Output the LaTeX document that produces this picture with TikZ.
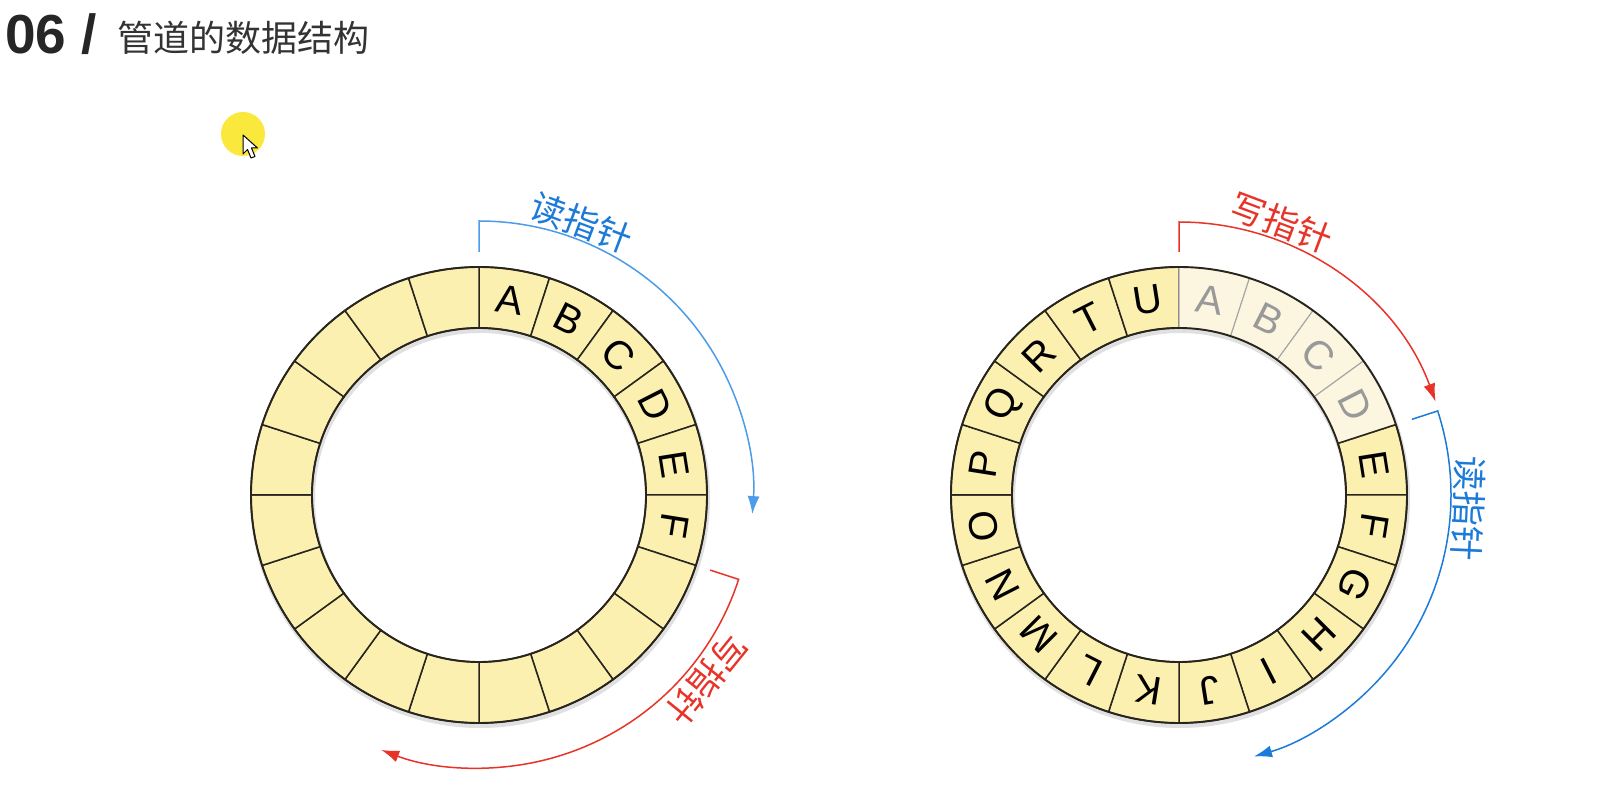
\documentclass[tikz,border=0pt]{standalone}
\usepackage{fontspec}
\setmainfont{Liberation Sans}
\newfontfamily\cjk{Noto Sans CJK SC}
\usetikzlibrary{arrows.meta}

\definecolor{slotfill}{RGB}{251,240,176}
\definecolor{slotfade}{RGB}{252,246,224}
\definecolor{ringedge}{RGB}{40,36,30}
\definecolor{ptrblue}{RGB}{28,122,216}
\definecolor{ptrbluelight}{RGB}{76,156,232}
\definecolor{ptrred}{RGB}{232,52,40}
\definecolor{cursorspot}{RGB}{250,232,60}

\tikzset{
  slot/.style={fill=slotfill, draw=ringedge, line width=1.5pt},
  fadeslot/.style={fill=slotfade, draw=black!35, line width=1.1pt},
  ringrim/.style={draw=ringedge, line width=1.9pt},
  slotletter/.style={font=\fontsize{40}{40}\selectfont, inner sep=0pt},
  ptrlabel/.style={font=\cjk\fontsize{35}{35}\selectfont, inner sep=0pt},
  ptrline/.style={line width=1.5pt, -{Latex[length=18pt,width=12pt]}},
}

\begin{document}
\begin{tikzpicture}[x=1pt, y=1pt]
    \useasboundingbox (0,0) rectangle (1618,804);
    \fill[white] (0,0) rectangle (1618,804);

    % Title
    \node[anchor=west, inner sep=0pt, text=black!85, font=\bfseries\fontsize{55}{55}\selectfont] (num) at (5,770) {06 /};
    \node[anchor=west, inner sep=0pt, text=black!80, font=\cjk\fontsize{36}{36}\selectfont] (title) at (117,766) {管道的数据结构};

    % Cursor
    \fill[cursorspot] (243,670) circle (22);
    \filldraw[fill=white, draw=black, line width=1pt, line join=round] (243,669) -- (243,650) -- (247.5,654.5) -- (251,646) -- (255,647.5) -- (251.5,656) -- (257.5,656) -- cycle;

    % Left ring
    \begin{scope}[shift={(479,309)}]
        \coordinate (lc) at (0,0);
        \fill[black!12, even odd rule] (1,-3) circle (230) (1,-3) circle (165);
        \foreach \i [evaluate=\i as \a using {90-18*\i}] in {0,...,19}
            \filldraw[slot] (\a:167) -- (\a:228) arc[start angle=\a, end angle=\a-18, radius=228] -- (\a-18:167) arc[start angle=\a-18, end angle=\a, radius=167] -- cycle;
        \draw[ringrim] (lc) circle (228) (lc) circle (167);
        \foreach \ch [count=\i from 0, evaluate=\i as \a using {81-18*\i}] in {A,B,C,D,E,F}
            \node[slotletter, rotate=\a-90] (l\ch) at (\a:197.5) {\ch};

        % Read pointer
        \draw[ptrbluelight, ptrline] (90:243) -- (90:274) arc[start angle=90, end angle=-4, radius=274];
        \node[ptrlabel, text=ptrblue, rotate=69.4-90] (lread) at (69.4:291) {读指针};
        % Write pointer
        \draw[ptrred, ptrline] (-18:243) -- (-18:273) arc[start angle=-18, end angle=-111, radius=273];
        \node[ptrlabel, text=ptrred, rotate=-39-90] (lwrite) at (-39:293) {写指针};
    \end{scope}

    % Right ring
    \begin{scope}[shift={(1179,309)}]
        \coordinate (rc) at (0,0);
        \fill[black!12, even odd rule] (1,-3) circle (230) (1,-3) circle (165);
        \foreach \i [evaluate=\i as \a using {18-18*\i}] in {0,...,15}
            \filldraw[slot] (\a:167) -- (\a:228) arc[start angle=\a, end angle=\a-18, radius=228] -- (\a-18:167) arc[start angle=\a-18, end angle=\a, radius=167] -- cycle;
        \foreach \i [evaluate=\i as \a using {90-18*\i}] in {0,...,3}
            \filldraw[fadeslot] (\a:167) -- (\a:228) arc[start angle=\a, end angle=\a-18, radius=228] -- (\a-18:167) arc[start angle=\a-18, end angle=\a, radius=167] -- cycle;
        \draw[ringedge, line width=1.5pt] (18:167) -- (18:228);
        \draw[ringrim] (rc) circle (228) (rc) circle (167);
        \foreach \ch [count=\i from 0, evaluate=\i as \a using {81-18*\i}] in {A,B,C,D}
            \node[slotletter, text=black!40, rotate=\a-90] (r\ch) at (\a:197.5) {\ch};
        \foreach \ch [count=\i from 4, evaluate=\i as \a using {81-18*\i}] in {E,F,G,H,I,J,K,L,M,N,O,P,Q,R,T,U}
            \node[slotletter, rotate=\a-90] (r\ch) at (\a:197.5) {\ch};

        % Write pointer
        \draw[ptrred, ptrline] (90:243) -- (90:273) arc[start angle=90, end angle=20, radius=273];
        \node[ptrlabel, text=ptrred, rotate=69.4-90] (rwrite) at (69.4:291) {写指针};
        % Read pointer
        \draw[ptrblue, ptrline] (18:245) -- (18:272) arc[start angle=18, end angle=-74, radius=272];
        \node[ptrlabel, text=ptrblue, rotate=-2.6-90] (rread) at (-2.6:290) {读指针};
    \end{scope}
\end{tikzpicture}
\end{document}
